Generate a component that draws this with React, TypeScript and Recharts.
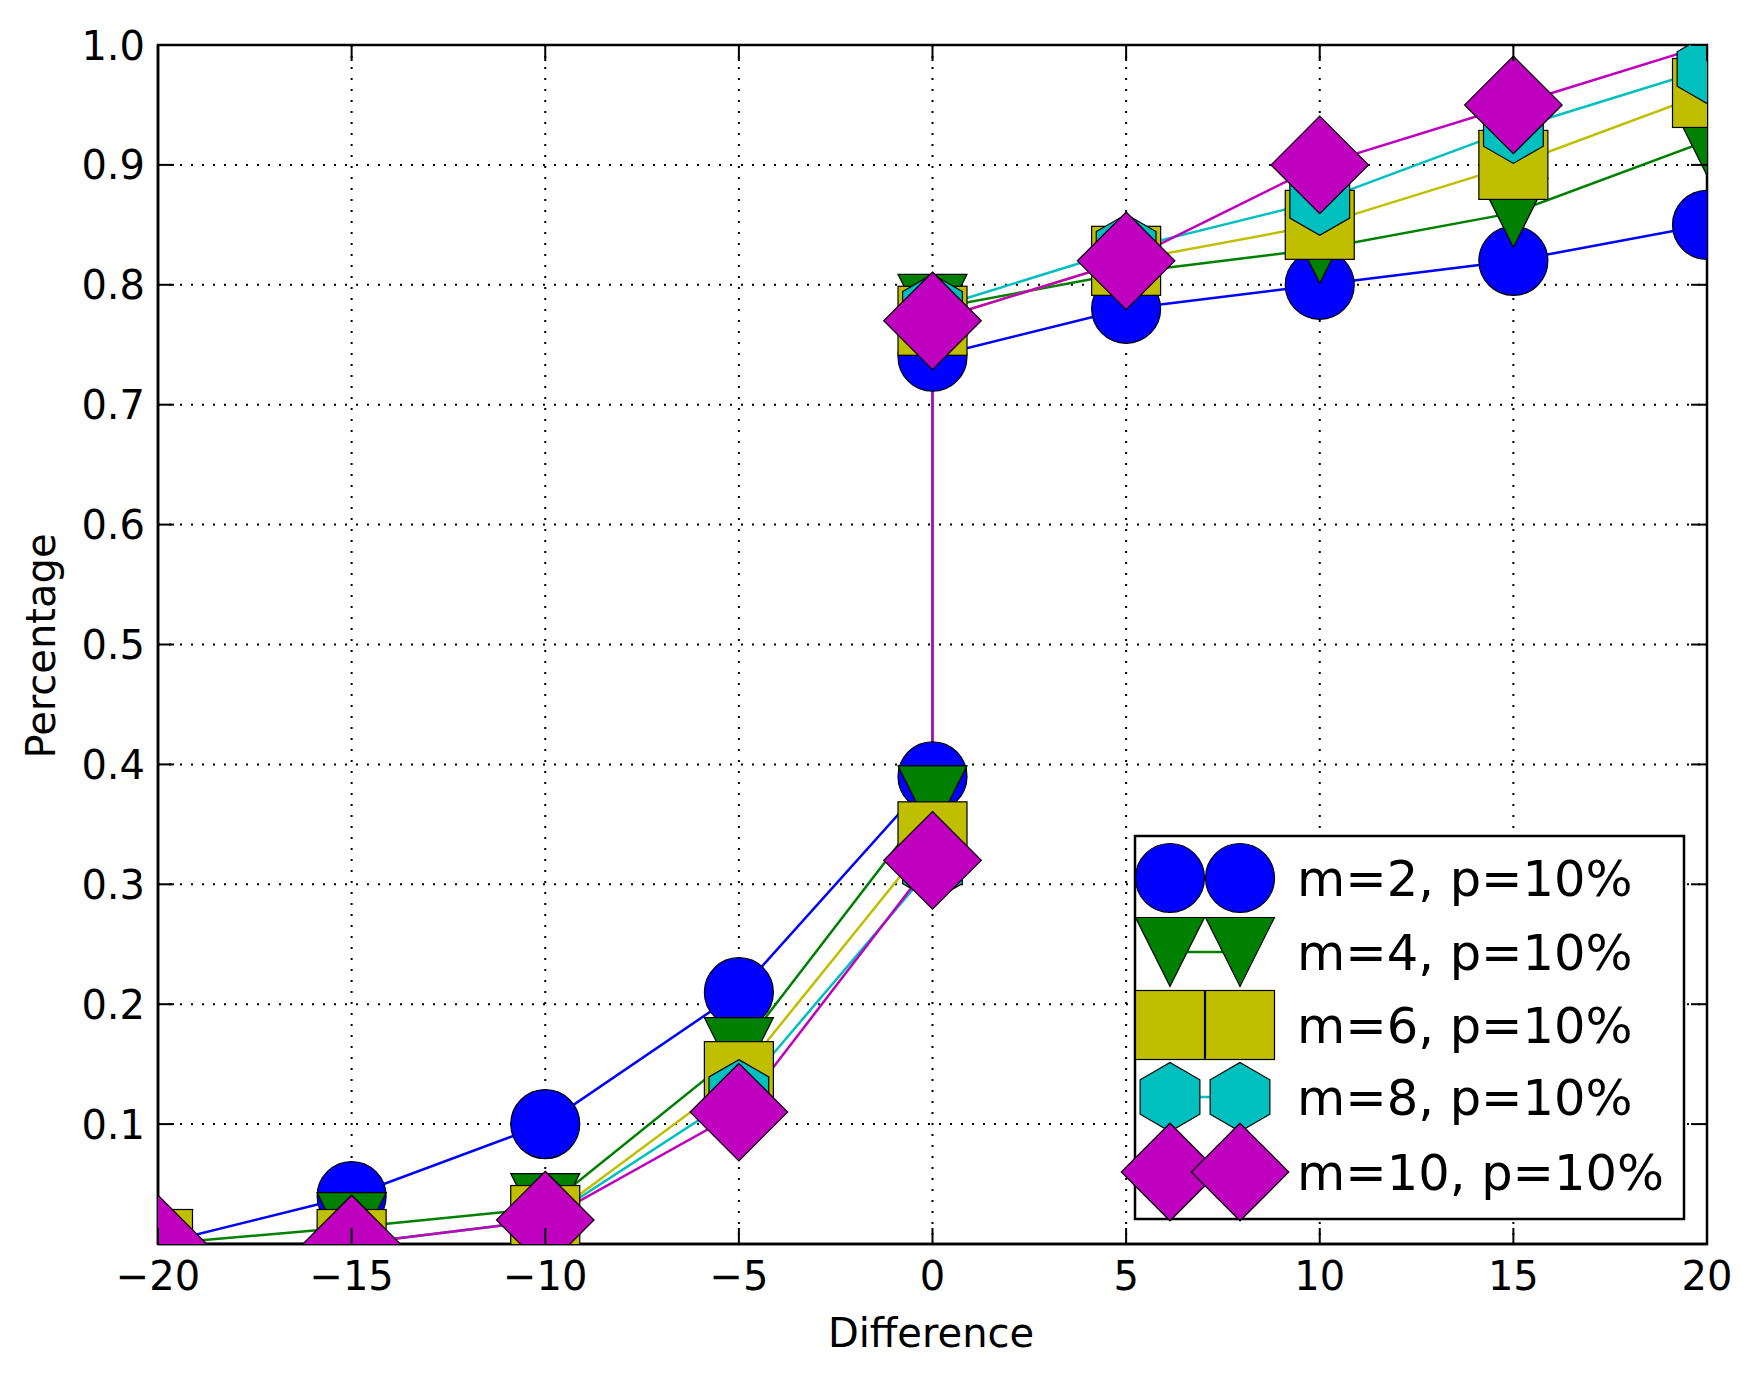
import React from 'react';
import { LineChart, Line, XAxis, YAxis, CartesianGrid, Legend, ReferenceArea } from 'recharts';

// ---------------- data ----------------
const differences = [-20, -15, -10, -5, 0, 0, 5, 10, 15, 20];
const m2Values = [0.0, 0.04, 0.1, 0.21, 0.39, 0.74, 0.78, 0.8, 0.82, 0.85];
const m4Values = [0.0, 0.014, 0.03, 0.16, 0.37, 0.78, 0.81, 0.83, 0.86, 0.92];
const m6Values = [0.0, 0.0, 0.02, 0.14, 0.34, 0.77, 0.82, 0.85, 0.9, 0.96];
const m8Values = [0.0, 0.0, 0.02, 0.125, 0.315, 0.78, 0.83, 0.87, 0.93, 0.98];
const m10Values = [0.0, 0.0, 0.02, 0.11, 0.32, 0.77, 0.82, 0.9, 0.95, 1.0];
const seriesNames = ['m=2, p=10%', 'm=4, p=10%', 'm=6, p=10%', 'm=8, p=10%', 'm=10, p=10%'];
const xTicks = [-20, -15, -10, -5, 0, 5, 10, 15, 20];
const yTicks = [0.1, 0.2, 0.3, 0.4, 0.5, 0.6, 0.7, 0.8, 0.9, 1.0];
const xLabel = 'Difference';
const yLabel = 'Percentage';

const data = differences.map((x, i) => ({
  x,
  m2: m2Values[i],
  m4: m4Values[i],
  m6: m6Values[i],
  m8: m8Values[i],
  m10: m10Values[i],
}));

// ---------------- styles ----------------
const SERIES = [
  { key: 'm2', name: seriesNames[0], color: '#0000ff', shape: 'circle' },
  { key: 'm4', name: seriesNames[1], color: '#008000', shape: 'triDown' },
  { key: 'm6', name: seriesNames[2], color: '#bfbf00', shape: 'square' },
  { key: 'm8', name: seriesNames[3], color: '#00bfbf', shape: 'hexagon' },
  { key: 'm10', name: seriesNames[4], color: '#bf00bf', shape: 'diamond' },
];

const W = 1756;
const H = 1381;
const PLOT_LEFT = 158;
const PLOT_RIGHT = 1707;
const PLOT_TOP = 45;
const PLOT_BOTTOM = 1244;
const Y_AXIS_W = 150;
const X_AXIS_H = 120;
const FONT = "'DejaVu Sans', sans-serif";
const TICK_FS = 40;
const TICK_LEN = 16;
const MARKER = 69;
const LINE_W = 2.5;

function Marker({ shape, cx, cy, fill, size }: any) {
  const h = size / 2;
  const common = { fill, stroke: '#000', strokeWidth: 1.2 };
  if (shape === 'circle') return <circle cx={cx} cy={cy} r={h} {...common} />;
  if (shape === 'triDown')
    return <polygon points={`${cx - h},${cy - h} ${cx + h},${cy - h} ${cx},${cy + h}`} {...common} />;
  if (shape === 'square') return <rect x={cx - h} y={cy - h} width={size} height={size} {...common} />;
  if (shape === 'hexagon') {
    const pts: string[] = [];
    for (let i = 0; i < 6; i++) {
      const a = ((-90 + 60 * i) * Math.PI) / 180;
      pts.push(`${cx + h * Math.cos(a)},${cy + h * Math.sin(a)}`);
    }
    return <polygon points={pts.join(' ')} {...common} />;
  }
  const d = h * Math.SQRT2;
  return <polygon points={`${cx},${cy - d} ${cx + d},${cy} ${cx},${cy + d} ${cx - d},${cy}`} {...common} />;
}

const fmtX = (v: number) => (v < 0 ? '\u2212' + Math.abs(v) : String(v));
const fmtY = (v: number) => v.toFixed(1);

function XTick(props: any) {
  const { x, payload } = props;
  return (
    <g>
      <line x1={x} x2={x} y1={PLOT_BOTTOM} y2={PLOT_BOTTOM - TICK_LEN} stroke="#000" strokeWidth={2} />
      <line x1={x} x2={x} y1={PLOT_TOP} y2={PLOT_TOP + TICK_LEN} stroke="#000" strokeWidth={2} />
      <text x={x} y={PLOT_BOTTOM + 46} textAnchor="middle" fontSize={TICK_FS} fontFamily={FONT} fill="#000">
        {fmtX(payload.value)}
      </text>
    </g>
  );
}

function YTick(props: any) {
  const { y, payload } = props;
  return (
    <g>
      <line x1={PLOT_LEFT} x2={PLOT_LEFT + TICK_LEN} y1={y} y2={y} stroke="#000" strokeWidth={2} />
      <line x1={PLOT_RIGHT - TICK_LEN} x2={PLOT_RIGHT} y1={y} y2={y} stroke="#000" strokeWidth={2} />
      <text x={145} y={y + 14.5} textAnchor="end" fontSize={TICK_FS} fontFamily={FONT} fill="#000">
        {fmtY(payload.value)}
      </text>
    </g>
  );
}

function LegendBox() {
  const boxW = 549;
  const boxH = 383;
  const rowY = [42, 116, 189, 261, 336];
  return (
    <svg width={boxW} height={boxH} style={{ overflow: 'visible', display: 'block' }}>
      <rect x={0} y={0} width={boxW} height={boxH} fill="#fff" stroke="#000" strokeWidth={2.5} />
      {SERIES.map((s, i) => (
        <g key={s.key}>
          <line x1={35} x2={105} y1={rowY[i]} y2={rowY[i]} stroke={s.color} strokeWidth={LINE_W} />
          <Marker shape={s.shape} cx={35} cy={rowY[i]} fill={s.color} size={MARKER} />
          <Marker shape={s.shape} cx={105} cy={rowY[i]} fill={s.color} size={MARKER} />
          <text x={162} y={rowY[i] + 18} fontSize={49.5} fontFamily={FONT} fill="#000">
            {s.name}
          </text>
        </g>
      ))}
    </svg>
  );
}

export default function App() {
  return (
    <div style={{ position: 'absolute', left: 0, top: 0, width: W, height: H, background: '#fff', fontFamily: FONT }}>
      <LineChart
        width={W}
        height={H}
        data={data}
        margin={{ top: PLOT_TOP, right: W - PLOT_RIGHT, bottom: H - PLOT_BOTTOM - X_AXIS_H, left: PLOT_LEFT - Y_AXIS_W }}
      >
        <CartesianGrid stroke="#000" strokeWidth={2} strokeDasharray="2 9" />
        <XAxis
          dataKey="x"
          type="number"
          domain={[-20, 20]}
          ticks={xTicks}
          allowDataOverflow
          height={X_AXIS_H}
          tickLine={false}
          axisLine={{ stroke: '#000', strokeWidth: 2.5 }}
          tick={<XTick />}
          interval={0}
          label={() => (
            <text x={931} y={1347} textAnchor="middle" fontSize={40} fontFamily={FONT} fill="#000">
              {xLabel}
            </text>
          )}
        />
        <YAxis
          type="number"
          domain={[0, 1]}
          ticks={yTicks}
          allowDataOverflow
          width={Y_AXIS_W}
          tickLine={false}
          axisLine={{ stroke: '#000', strokeWidth: 2.5 }}
          tick={<YTick />}
          interval={0}
          label={() => (
            <text
              x={55}
              y={646}
              textAnchor="middle"
              fontSize={40}
              fontFamily={FONT}
              fill="#000"
              transform="rotate(-90 55 646)"
            >
              {yLabel}
            </text>
          )}
        />
        {SERIES.map((s) => (
          <Line
            key={s.key}
            dataKey={s.key}
            name={s.name}
            type="linear"
            stroke={s.color}
            strokeWidth={LINE_W}
            isAnimationActive={false}
            activeDot={false}
            dot={(p: any) =>
              p.cy <= PLOT_TOP + 0.5 ? (
                <g key={`${s.key}-${p.index}`} />
              ) : (
                <Marker key={`${s.key}-${p.index}`} shape={s.shape} cx={p.cx} cy={p.cy} fill={s.color} size={MARKER} />
              )
            }
          />
        ))}
        <ReferenceArea
          x1={-20}
          x2={20}
          y1={0}
          y2={1}
          fill="none"
          fillOpacity={0}
          stroke="#000"
          strokeWidth={2.5}
          ifOverflow="visible"
        />
        <Legend
          layout="vertical"
          align="center"
          verticalAlign="middle"
          content={() => <LegendBox />}
          wrapperStyle={{ position: 'absolute', left: 1135, top: 836, width: 549, height: 383 }}
        />
      </LineChart>
    </div>
  );
}
